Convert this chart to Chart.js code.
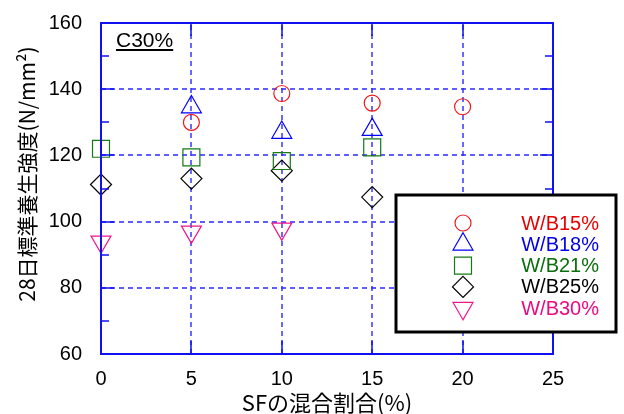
<!DOCTYPE html>
<html>
<head>
<meta charset="utf-8">
<script src="https://cdn.jsdelivr.net/npm/chart.js@4.4.1/dist/chart.umd.min.js"></script>
<style>
  html, body { margin: 0; padding: 0; background: #fff; }
  #wrap { width: 624px; height: 414px; }
</style>
</head>
<body>
<div id="wrap"><canvas id="chart" width="624" height="414"></canvas></div>
<script>
// ---- data ----
const sfRatio = [0, 5, 10, 15, 20];               // SFの混合割合(%)
const seriesNames = ['W/B15%', 'W/B18%', 'W/B21%', 'W/B25%', 'W/B30%'];
const wb15 = [null, 130.0, 138.7, 135.8, 134.7];
const wb18 = [null, 134.6, 126.9, 127.8, null];
const wb21 = [122.0, 119.4, 118.3, 122.4, null];
const wb25 = [111.2, 113.0, 115.4, 107.4, null];
const wb30 = [93.9, 96.9, 97.8, null, null];
const xTicks = [0, 5, 10, 15, 20, 25];
const yTicks = [60, 80, 100, 120, 140, 160];
const yMinorTicks = [70, 90, 110, 130, 150];
const panelLabel = 'C30%';
const xTitle = 'SFの混合割合(%)';
const yTitle = '28日標準養生強度(N/mm²)';

const LATIN = "'Liberation Sans', Arial, sans-serif";
const JP = "'Noto Sans CJK JP', 'Liberation Sans', sans-serif";
const AXIS_BLUE = '#1010f0';
const GRID_BLUE = '#2a2aff';

// マーカー設定（凡例と共通）
const markers = [
  { style: 'circle',   radius: 8,    rotation: 0,   color: '#f01818', text: '#e80000' },
  { style: 'triangle', radius: 11.5, rotation: 0,   color: '#0000ff', text: '#0000e8' },
  { style: 'rect',     radius: 12,   rotation: 0,   color: '#167a16', text: '#0a6e0a' },
  { style: 'rectRot',  radius: 10.5, rotation: 0,   color: '#000000', text: '#000000' },
  { style: 'triangle', radius: 11.5, rotation: 180, color: '#f0148c', text: '#ec0a82' },
];
const seriesValues = [wb15, wb18, wb21, wb25, wb30];

const toPoints = (vals) =>
  sfRatio.map((x, i) => ({ x, y: vals[i] })).filter(p => p.y !== null);

const datasets = seriesNames.map((name, i) => ({
  label: name,
  data: toPoints(seriesValues[i]),
  showLine: false,
  pointStyle: markers[i].style,
  pointRadius: markers[i].radius,
  pointRotation: markers[i].rotation,
  pointBorderColor: markers[i].color,
  pointBackgroundColor: 'rgba(0,0,0,0)',
  pointBorderWidth: 1.2,
  clip: false,
}));

// 破線グリッド（データより先に描く）
const gridPlugin = {
  id: 'dashGrid',
  beforeDatasetsDraw(chart) {
    const { ctx, chartArea: a, scales: { x, y } } = chart;
    ctx.save();
    ctx.strokeStyle = GRID_BLUE;
    ctx.lineWidth = 1.4;
    ctx.setLineDash([5, 4]);
    ctx.beginPath();
    yTicks.slice(1, -1).forEach(v => {
      const py = Math.round(y.getPixelForValue(v));
      ctx.moveTo(a.left, py); ctx.lineTo(a.right, py);
    });
    xTicks.slice(1, -1).forEach(v => {
      const px = Math.round(x.getPixelForValue(v));
      ctx.moveTo(px, a.bottom); ctx.lineTo(px, a.top);
    });
    ctx.stroke();
    ctx.restore();
  }
};

// 枠線・目盛り・ラベル・凡例を描くプラグイン
const decorPlugin = {
  id: 'decor',
  afterDatasetsDraw(chart) {
    const { ctx, chartArea: a, scales: { x, y } } = chart;
    ctx.save();
    ctx.strokeStyle = AXIS_BLUE;
    ctx.lineWidth = 1.5;
    ctx.setLineDash([]);
    ctx.beginPath();
    // 目盛り（内向き）
    yTicks.forEach(v => {
      const py = Math.round(y.getPixelForValue(v));
      ctx.moveTo(a.left, py); ctx.lineTo(a.left + 13, py);
      ctx.moveTo(a.right, py); ctx.lineTo(a.right - 13, py);
    });
    yMinorTicks.forEach(v => {
      const py = Math.round(y.getPixelForValue(v));
      ctx.moveTo(a.left, py); ctx.lineTo(a.left + 8, py);
      ctx.moveTo(a.right, py); ctx.lineTo(a.right - 8, py);
    });
    xTicks.forEach(v => {
      const px = Math.round(x.getPixelForValue(v));
      ctx.moveTo(px, a.bottom); ctx.lineTo(px, a.bottom - 13);
      ctx.moveTo(px, a.top); ctx.lineTo(px, a.top + 13);
    });
    ctx.stroke();
    ctx.lineWidth = 2;
    ctx.strokeRect(a.left, a.top, a.right - a.left, a.bottom - a.top);

    // C30% ラベル
    ctx.fillStyle = '#000';
    ctx.font = `21px ${LATIN}`;
    ctx.textAlign = 'left';
    ctx.textBaseline = 'alphabetic';
    ctx.fillText(panelLabel, 116, 47);
    const w = ctx.measureText(panelLabel).width;
    ctx.fillRect(116, 49, w, 2);

    // 縦軸タイトル
    ctx.save();
    ctx.translate(27, 174);
    ctx.rotate(-Math.PI / 2);
    ctx.font = `21px ${JP}`;
    ctx.textAlign = 'center';
    ctx.textBaseline = 'middle';
    ctx.fillText(yTitle, 0, 0);
    ctx.restore();
    ctx.restore();
  },
  afterDraw(chart) {
    const { ctx } = chart;
    const box = { left: 396, top: 195, right: 616, bottom: 332 };
    ctx.save();
    ctx.fillStyle = '#fff';
    ctx.fillRect(box.left, box.top, box.right - box.left, box.bottom - box.top);
    ctx.strokeStyle = '#000';
    ctx.lineWidth = 3;
    ctx.strokeRect(box.left, box.top, box.right - box.left, box.bottom - box.top);

    ctx.font = `20px ${LATIN}`;
    ctx.textAlign = 'right';
    ctx.textBaseline = 'middle';
    seriesNames.forEach((name, i) => {
      const rowY = 223 + i * 21.3;
      const m = markers[i];
      ctx.strokeStyle = m.color;
      ctx.fillStyle = 'rgba(0,0,0,0)';
      ctx.lineWidth = 1.2;
      Chart.helpers.drawPoint(ctx, {
        pointStyle: m.style, radius: m.radius, rotation: m.rotation, borderWidth: 1.2
      }, 463, rowY);
      ctx.fillStyle = m.text;
      ctx.fillText(name, 599, rowY + 1);
    });
    ctx.restore();
  }
};

new Chart(document.getElementById('chart'), {
  type: 'scatter',
  data: { datasets },
  options: {
    responsive: false,
    animation: false,
    devicePixelRatio: 1,
    events: [],
    layout: { padding: { top: 15, right: 71, left: 0, bottom: 0 } },
    plugins: { legend: { display: false }, tooltip: { enabled: false } },
    scales: {
      x: {
        type: 'linear',
        min: 0, max: 25,
        afterFit: s => { s.height = 60; },
        ticks: { stepSize: 5, color: '#000', padding: 5, font: { size: 20, family: LATIN } },
        grid: { display: false },
        border: { display: false },
        title: {
          display: true, text: xTitle, color: '#000',
          font: { size: 22, family: JP, lineHeight: 1 },
          padding: { top: 0, bottom: 0 }
        }
      },
      y: {
        type: 'linear',
        min: 60, max: 160,
        afterFit: s => { s.width = 101; },
        ticks: { stepSize: 20, color: '#000', padding: 11, font: { size: 20, family: LATIN } },
        grid: { display: false },
        border: { display: false }
      }
    }
  },
  plugins: [gridPlugin, decorPlugin]
});
</script>
</body>
</html>
